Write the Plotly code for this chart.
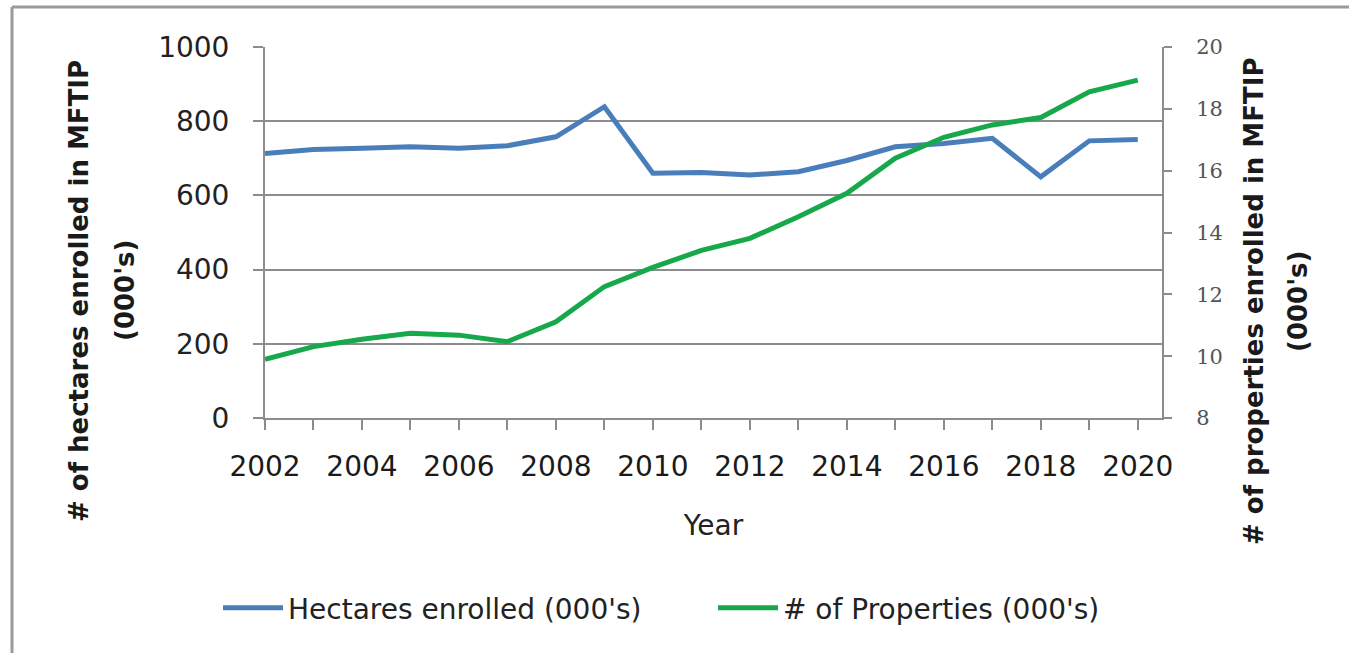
import plotly.graph_objects as go

years = list(range(2002, 2021))
hectares = [713, 724, 727, 731, 727, 734, 758, 839, 660, 662, 655, 664, 694, 731, 740, 754, 650, 747, 751]
properties = [9.90, 10.31, 10.55, 10.74, 10.68, 10.47, 11.11, 12.25, 12.87, 13.42, 13.81, 14.51, 15.27, 16.40, 17.08, 17.48, 17.72, 18.55, 18.93]

left_title = ["# of hectares enrolled in MFTIP", "(000's)"]
right_title = ["# of properties enrolled in MFTIP", "(000's)"]

FONT = "DejaVu Sans"
GRID = "#8c8c8c"

fig = go.Figure()
fig.add_trace(go.Scatter(x=years, y=hectares, mode="lines", name="Hectares enrolled (000's)",
                         line=dict(color="#4A7EBB", width=5)))
fig.add_trace(go.Scatter(x=years, y=properties, mode="lines", name="# of Properties (000's)",
                         line=dict(color="#17A84B", width=5), yaxis="y2"))

W, H = 1349, 653
L, R, T, B = 265, 187, 47, 235
pw, ph = W - L - R, H - T - B

def px_x(x):
    return (x - L) / pw

def px_y(y):
    return (H - B - y) / ph

fig.update_layout(
    width=W, height=H,
    margin=dict(l=L, r=R, t=T, b=B),
    paper_bgcolor="white", plot_bgcolor="white",
    font=dict(family=FONT, color="#222222"),
    showlegend=True,
    legend=dict(orientation="h", x=px_x(218), xanchor="left", y=px_y(608), yanchor="middle",
                font=dict(family=FONT, size=28, color="#222222"), itemwidth=60,
                entrywidth=420, traceorder="normal"),
    xaxis=dict(range=[2002, 2020.5], tick0=2002, dtick=2, showgrid=False,
               showline=True, linecolor=GRID, linewidth=2,
               ticks="outside", ticklen=10, tickcolor=GRID, tickwidth=2,
               minor=dict(dtick=1, tick0=2002, ticks="outside", ticklen=10, tickcolor=GRID, tickwidth=2),
               tickfont=dict(family=FONT, size=28, color="#1a1a1a"), ticklabelstandoff=12,
               title=dict(text="Year", font=dict(family=FONT, size=28, color="#222222"), standoff=34),
               zeroline=False),
    yaxis=dict(range=[0, 1000], dtick=200, showgrid=True, gridcolor=GRID, gridwidth=2,
               showline=True, linecolor=GRID, linewidth=2,
               ticks="outside", ticklen=10, tickcolor=GRID, tickwidth=2,
               tickfont=dict(family=FONT, size=28, color="#222222"), ticklabelstandoff=18,
               zeroline=False),
    yaxis2=dict(range=[8, 20], dtick=2, overlaying="y", side="right", showgrid=False,
                showline=True, linecolor=GRID, linewidth=2,
                ticks="outside", ticklen=8, tickcolor=GRID, tickwidth=2,
                tickfont=dict(family="DejaVu Serif", size=21, color="#555555"), ticklabelstandoff=20,
                zeroline=False),
)

annotations = [
    dict(text=left_title[0], x=px_x(79), y=px_y(291)),
    dict(text=left_title[1], x=px_x(125), y=px_y(291)),
    dict(text=right_title[0], x=px_x(1254), y=px_y(302)),
    dict(text=right_title[1], x=px_x(1298), y=px_y(302)),
]
for a in annotations:
    fig.add_annotation(xref="paper", yref="paper", textangle=-90, showarrow=False,
                       xanchor="center", yanchor="middle",
                       font=dict(family=FONT, size=26, color="#1a1a1a"),
                       text="<b>" + a["text"] + "</b>", x=a["x"], y=a["y"])

# outer frame: only left and top edges are visible in the source image
fig.add_shape(type="line", xref="paper", yref="paper",
              x0=px_x(12), x1=px_x(12), y0=px_y(653), y1=px_y(7),
              line=dict(color="#9a9a9a", width=3), layer="below")
fig.add_shape(type="line", xref="paper", yref="paper",
              x0=px_x(12), x1=px_x(1349), y0=px_y(7), y1=px_y(7),
              line=dict(color="#9a9a9a", width=3), layer="below")

fig.write_html("out.html")
